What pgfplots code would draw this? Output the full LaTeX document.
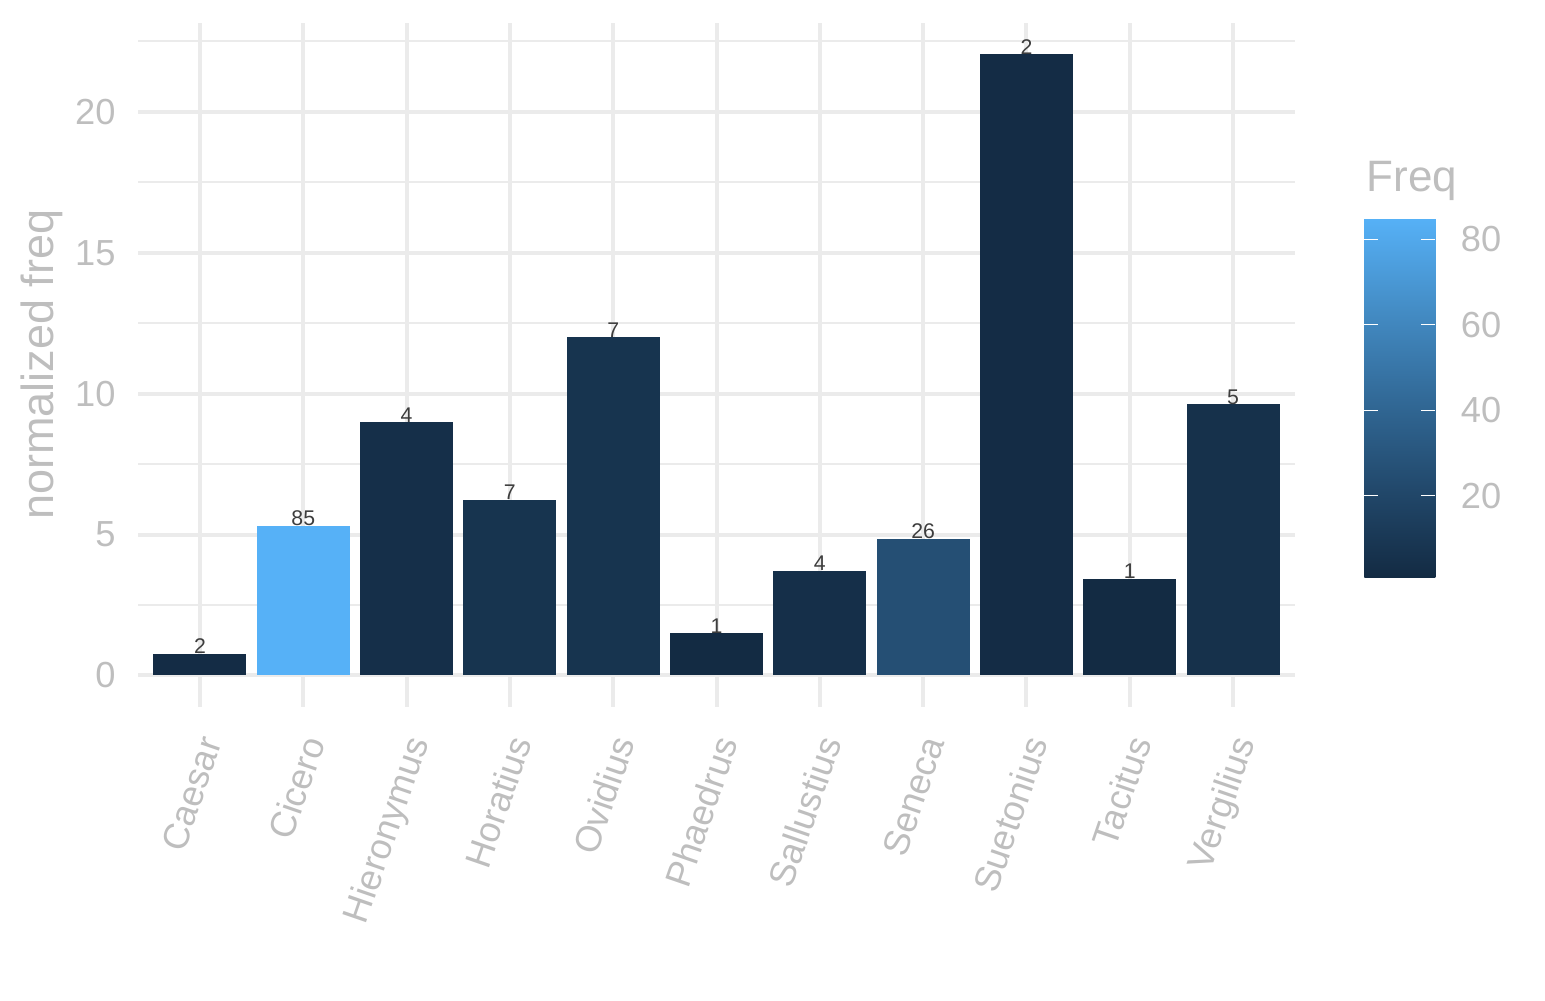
\documentclass[border=0pt]{standalone}
\usepackage{fontspec}
\setmainfont{Liberation Sans}
\usepackage{pgfplots}
\pgfplotsset{compat=1.18}
\usetikzlibrary{calc}
\pgfkeys{/pgf/number format/assume math mode=true}

\definecolor{txtgray}{HTML}{BEBEBE}
\definecolor{gridc}{HTML}{EBEBEB}
\definecolor{labc}{HTML}{3D3D3D}
% fill colours, freq 1 ... 85 (ggplot default gradient)
\definecolor{f1}{RGB}{19,43,67}
\definecolor{f2}{RGB}{20,44,69}
\definecolor{f4}{RGB}{21,47,73}
\definecolor{f5}{RGB}{22,49,75}
\definecolor{f7}{RGB}{23,52,79}
\definecolor{f26}{RGB}{37,79,116}
\definecolor{f85}{RGB}{86,177,247}

\begin{document}
\begin{tikzpicture}
\path[use as bounding box] (-55.2pt,-117.4pt) rectangle (562.8pt,282.6pt);
\begin{axis}[
    at={(0,0)}, anchor=south west,
    scale only axis, width=462.8pt, height=273.4pt,
    xmin=-0.6, xmax=10.6, ymin=-1.1025, ymax=23.1525,
    ybar, bar width=0.9, bar shift=0pt,
    xtick={0,...,10},
    xticklabels={Caesar,Cicero,Hieronymus,Horatius,Ovidius,Phaedrus,Sallustius,Seneca,Suetonius,Tacitus,Vergilius},
    ytick={0,5,10,15,20},
    minor ytick={2.5,7.5,12.5,17.5,22.5},
    xmajorgrids, ymajorgrids, yminorgrids,
    major grid style={draw=gridc, line width=1.6pt},
    minor grid style={draw=gridc, line width=0.8pt},
    axis line style={draw=none},
    major tick length=0pt, minor tick length=0pt,
    tick style={draw=none},
    ticklabel style={text=txtgray, font=\fontsize{14.5}{17}\selectfont},
    yticklabel style={anchor=east, inner sep=0pt, xshift=-8.8pt},
    xticklabel style={anchor=north east, inner sep=0pt, xshift=2pt, yshift=-11.8pt, rotate=71, text height=0.72em, text depth=0.2em},
    ylabel={normalized freq},
    every axis y label/.style={at={($(axis description cs:0,0.5)+(-38.4pt,0)$)}, rotate=90, anchor=center, text=txtgray, font=\fontsize{18}{21}\selectfont},
    point meta=explicit,
    point meta min=1, point meta max=85,
    nodes near coords,
    nodes near coords style={font=\fontsize{8.5}{10}\selectfont, text=labc, anchor=base, inner sep=0pt},
    colormap={gg}{rgb255=(19,43,67) rgb255=(34,73,108) rgb255=(50,106,152) rgb255=(68,141,198) rgb255=(86,177,247)},
    colorbar,
    colorbar/width=28.4pt,
    colorbar style={
        at={($(parent axis.south west)+(482pt,51.8pt)$)}, anchor=south west,
        scale only axis, width=28.4pt, height=143.6pt,
        ytick={20,40,60,80},
        ytick pos=both, yticklabel pos=right,
        tick align=inside,
        major tick length=5.6pt,
        tick style={draw=white, line width=0.5pt},
        axis line style={draw=none},
        yticklabel style={text=txtgray, font=\fontsize{14.5}{17}\selectfont, anchor=west, inner sep=0pt, xshift=10pt},
    },
]
\addplot[fill=f2, draw=none]  coordinates {(0,0.77) [2]};
\addplot[fill=f85, draw=none] coordinates {(1,5.31) [85]};
\addplot[fill=f4, draw=none]  coordinates {(2,8.99) [4]};
\addplot[fill=f7, draw=none]  coordinates {(3,6.23) [7]};
\addplot[fill=f7, draw=none]  coordinates {(4,12.01) [7]};
\addplot[fill=f1, draw=none]  coordinates {(5,1.50) [1]};
\addplot[fill=f4, draw=none]  coordinates {(6,3.71) [4]};
\addplot[fill=f26, draw=none] coordinates {(7,4.85) [26]};
\addplot[fill=f2, draw=none]  coordinates {(8,22.05) [2]};
\addplot[fill=f1, draw=none]  coordinates {(9,3.43) [1]};
\addplot[fill=f5, draw=none]  coordinates {(10,9.63) [5]};
\end{axis}
\node[anchor=base west, inner sep=0pt, text=txtgray, font=\fontsize{17.6}{20}\selectfont] at (491.2pt,206.2pt) {Freq};
\end{tikzpicture}
\end{document}
